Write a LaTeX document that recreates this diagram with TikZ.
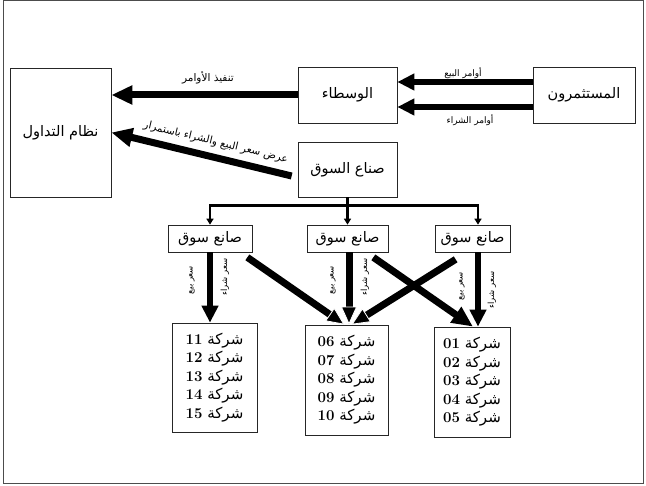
\documentclass[tikz,border=0pt]{standalone}
\usepackage{fontspec}
\newfontfamily\arabicfont[Script=Arabic]{DejaVu Sans}
\TeXXeTstate=1
\usetikzlibrary{arrows.meta,calc}
\newcommand{\artext}[1]{{\arabicfont\beginR #1\endR}}
\newcommand{\firm}[1]{\artext{شركة \beginL{\rmfamily\bfseries #1}\endL}}

\begin{document}
\begin{tikzpicture}[x=1pt,y=-1pt,
    box/.style={draw=black!85, line width=0.7pt, inner sep=0pt, align=center, font=\fontsize{14.5}{16}\selectfont},
    fat/.style={line width=6.5pt, -{Triangle[length=17pt,width=16pt]}},
    wide/.style={line width=7pt, -{Triangle[length=21pt,width=18pt]}},
    mid/.style={line width=7pt, -{Triangle[length=18pt,width=16pt,fill=black,color=white,line width=0.8pt]}},
    branch/.style={line width=2.6pt, line join=miter, -{Triangle[length=6pt,width=7pt]}},
    lbl/.style={font=\fontsize{9}{10}\selectfont, inner sep=1pt},
    vlbl/.style={font=\fontsize{8.5}{9}\selectfont, rotate=90, inner sep=0pt},
    firms/.style={box, font=\fontsize{15}{18.5}\selectfont}]
  \useasboundingbox (0,0) rectangle (646,486);
  \draw[black!70, line width=1pt] (3,1) rectangle (643,484);

  \node[box, minimum width=101pt, minimum height=129pt] (trade) at (60.5,132.5) {\artext{نظام التداول}};
  \node[box, minimum width=99pt, minimum height=56pt] (broker) at (347.5,95) {\artext{الوسطاء}};
  \node[box, minimum width=102pt, minimum height=56pt] (invest) at (584,95) {\artext{المستثمرون}};
  \node[box, minimum width=99pt, minimum height=55pt] (mm) at (347.5,169.5) {\artext{صناع السوق}};

  \node[box, minimum width=84pt, minimum height=27pt] (mmA) at (210,238.5) {\artext{صانع سوق}};
  \node[box, minimum width=81pt, minimum height=27pt] (mmB) at (347.5,238.5) {\artext{صانع سوق}};
  \node[box, minimum width=75pt, minimum height=27pt] (mmC) at (472.5,238.5) {\artext{صانع سوق}};

  \node[firms, minimum width=85pt, minimum height=109pt] (coA) at (214.5,377.5)
    {\firm{11}\\ \firm{12}\\ \firm{13}\\ \firm{14}\\ \firm{15}};
  \node[firms, minimum width=83pt, minimum height=110pt] (coB) at (346.5,380)
    {\firm{06}\\ \firm{07}\\ \firm{08}\\ \firm{09}\\ \firm{10}};
  \node[firms, minimum width=76pt, minimum height=110pt] (coC) at (472,382)
    {\firm{01}\\ \firm{02}\\ \firm{03}\\ \firm{04}\\ \firm{05}};

  \draw[fat] ([yshift=13pt]invest.west) -- ([yshift=13pt]broker.east);
  \draw[fat] ([yshift=-12pt]invest.west) -- ([yshift=-12pt]broker.east);
  \node[lbl] (sell) at (463,73) {\artext{أوامر البيع}};
  \node[lbl] (buy) at (470,120) {\artext{أوامر الشراء}};

  \draw[wide] (broker.west) -- (broker.west -| trade.east);
  \node[lbl, font=\fontsize{10.5}{11}\selectfont] (exec) at (208,78) {\artext{تنفيذ الأوامر}};
  \draw[wide] ($(mm.west)+(-6,6.5)$) -- node[lbl, font=\fontsize{10.5}{11}\selectfont, sloped, above=5pt, pos=0.44] (quote) {\artext{عرض سعر البيع والشراء باستمرار}} (trade.east);

  \draw[line width=2.6pt] (mm.south) -- ++(0,8) coordinate (split);
  \draw[branch] (split) -| (mmA.north);
  \draw[branch] (split) -- (mmB.north);
  \draw[branch] (split) -| ([xshift=5.5pt]mmC.north);

  \draw[fat] (mmA.south) -- (mmA.south |- coA.north);
  \draw[fat] ([xshift=5.5pt]mmC.south) -- ([xshift=5.5pt]mmC.south |- coC.north);
  \draw[wide] ($(mmB.south east)+(-15,5)$) -- ([xshift=1pt]coC.north);
  \draw[mid] ($(mmA.south east)+(-5,5)$) -- ([xshift=-2pt]coB.north);
  \draw[mid] ($(mmC.south west)+(21,7)$) -- ([xshift=5pt]coB.north);
  \draw[mid] ([xshift=1.5pt]mmB.south) -- ([xshift=1.5pt]mmB.south |- coB.north);

  \node[vlbl] (bidA) at (192,280) {\artext{سعر بيع}};
  \node[vlbl] (askA) at (225,277) {\artext{سعر شراء}};
  \node[vlbl] (bidB) at (333,280) {\artext{سعر بيع}};
  \node[vlbl] (askB) at (365,277) {\artext{سعر شراء}};
  \node[vlbl] (bidC) at (462,286) {\artext{سعر بيع}};
  \node[vlbl] (askC) at (492,290) {\artext{سعر شراء}};
\end{tikzpicture}
\end{document}
